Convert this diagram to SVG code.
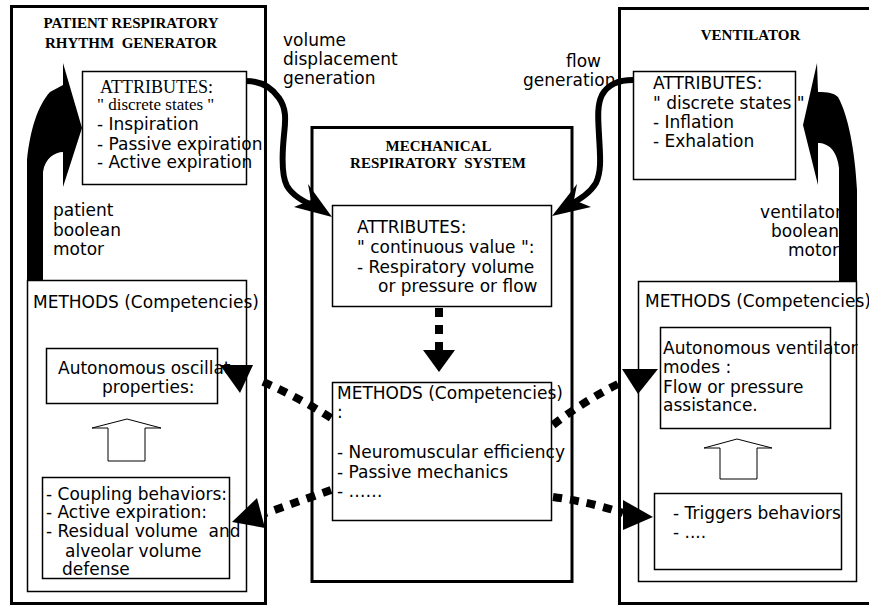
<svg xmlns="http://www.w3.org/2000/svg" width="869" height="607" viewBox="0 0 869 607">
<style>
.outer{fill:none;stroke:#000;stroke-width:3}
.box{fill:#fff;stroke:#000;stroke-width:1.5}
.t{font-family:"DejaVu Sans",sans-serif;font-size:17px;fill:#000}
.ts{font-family:"Liberation Serif",serif;fill:#000}
.title{font-family:"Liberation Serif",serif;font-weight:bold;font-size:15px;fill:#000;text-anchor:middle;white-space:pre}
.dot{fill:none;stroke:#000;stroke-width:8;stroke-dasharray:9 8}
.thick{fill:none;stroke:#000;stroke-width:6;stroke-linejoin:round}
.hollow{fill:#fff;stroke:#000;stroke-width:1}
</style>
<rect width="869" height="607" fill="#fff"/>

<g id="patient">
<rect class="outer" x="11.5" y="6.5" width="254" height="597"/>
<text class="title" x="131" y="28">PATIENT RESPIRATORY</text>
<text class="title" x="131" y="48">RHYTHM  GENERATOR</text>
<path d="M63,63 L82,128 L63,187 L63,152 C55,152 45,158 43,172 L43,280 L27,280 L27,160 C30,130 38,105 50,92 L63,85 Z" fill="#000"/>
<text class="t" x="53" y="216">patient</text>
<text class="t" x="53" y="236">boolean</text>
<text class="t" x="53" y="255">motor</text>
</g>

<g id="patient-attributes">
<rect class="box" x="82.5" y="71.5" width="164" height="113"/>
<text class="ts" x="100" y="93" font-size="18">ATTRIBUTES:</text>
<text class="ts" x="97" y="110" font-size="17">" discrete states "</text>
<text class="t" x="97" y="130">- Inspiration</text>
<text class="t" x="97" y="150">- Passive expiration</text>
<text class="t" x="97" y="168">- Active expiration</text>
</g>

<g id="patient-methods">
<rect class="box" x="27.5" y="280.5" width="219" height="311"/>
<text class="t" x="33" y="308">METHODS (Competencies)</text>
</g>

<g id="patient-oscillator">
<rect class="box" x="46.5" y="348.5" width="171" height="55"/>
<text class="t" x="58" y="374">Autonomous oscillat</text>
<text class="t" x="102" y="393">properties:</text>
</g>

<g id="patient-coupling">
<rect class="box" x="42.5" y="477.5" width="187" height="101"/>
<text class="t" x="46" y="500">- Coupling behaviors:</text>
<text class="t" x="46" y="518">- Active expiration:</text>
<text class="t" x="46" y="537" style="white-space:pre">- Residual volume  and</text>
<text class="t" x="65" y="557">alveolar volume</text>
<text class="t" x="62" y="575">defense</text>
</g>

<g id="mechanical">
<rect class="outer" x="312" y="127.5" width="260" height="454"/>
<text class="title" x="438.5" y="151">MECHANICAL</text>
<text class="title" x="438" y="168">RESPIRATORY  SYSTEM</text>
</g>

<g id="mechanical-attributes">
<rect class="box" x="332.5" y="205.5" width="219" height="101"/>
<text class="t" x="357" y="233">ATTRIBUTES:</text>
<text class="t" x="357" y="253">" continuous value ":</text>
<text class="t" x="357" y="273">- Respiratory volume</text>
<text class="t" x="378" y="292">or pressure or flow</text>
</g>

<g id="mechanical-methods">
<rect class="box" x="332.5" y="382.5" width="219" height="138"/>
<text class="t" x="337" y="399">METHODS (Competencies)</text>
<text class="t" x="337" y="418">:</text>
<text class="t" x="337" y="458">- Neuromuscular efficiency</text>
<text class="t" x="337" y="478">- Passive mechanics</text>
<text class="t" x="337" y="497">- ……</text>
</g>

<g id="ventilator">
<rect class="outer" x="619.5" y="8.5" width="262" height="595"/>
<text class="title" x="750.5" y="40">VENTILATOR</text>
<text class="t" x="842" y="218" text-anchor="end">ventilator</text>
<text class="t" x="839" y="237" text-anchor="end">boolean</text>
<text class="t" x="839" y="256" text-anchor="end">motor</text>
<path d="M817,63 L803,125 L818,185 L818,143 C828,143 837,150 839,168 L839,282 L857,282 L857,190 C855,150 848,115 838,97 C834,93 828,92 818,92 Z" fill="#000"/>
</g>

<g id="ventilator-attributes">
<rect class="box" x="633.5" y="71.5" width="162" height="108"/>
<text class="t" x="653" y="89">ATTRIBUTES:</text>
<text class="t" x="653" y="109">" discrete states "</text>
<text class="t" x="653" y="128">- Inflation</text>
<text class="t" x="653" y="147">- Exhalation</text>
</g>

<g id="ventilator-methods">
<rect class="box" x="638.5" y="281.5" width="218" height="300"/>
<text class="t" x="645" y="307">METHODS (Competencies)</text>
</g>

<g id="ventilator-modes">
<rect class="box" x="660.5" y="327.5" width="170" height="101"/>
<text class="t" x="663" y="354">Autonomous ventilator</text>
<text class="t" x="663" y="373">modes :</text>
<text class="t" x="663" y="393">Flow or pressure</text>
<text class="t" x="663" y="411">assistance.</text>
</g>

<g id="ventilator-triggers">
<rect class="box" x="654.5" y="493.5" width="187" height="76"/>
<text class="t" x="673" y="519">- Triggers behaviors</text>
<text class="t" x="673" y="538">- ....</text>
</g>

<g id="labels">
<text class="t" x="283" y="46">volume</text>
<text class="t" x="283" y="65">displacement</text>
<text class="t" x="283" y="84">generation</text>
<text class="t" x="566" y="67">flow</text>
<text class="t" x="523" y="86">generation</text>
</g>

<g id="connectors">
<path class="thick" d="M246,81 C262,81 272,88 279,98 C286,108 286,118 284,135 C282,155 281,175 287,186 C293,196 303,201 314,206"/>
<polygon points="332,217 308,184 311,200 294,207"/>
<path class="thick" d="M633,80 C620,80 608,84 602,95 C597,105 598,118 599,135 C600,155 602,170 596,183 C590,193 580,199 570,205"/>
<polygon points="552,216 577,184 574,200 591,207"/>
<line class="dot" x1="439" y1="308" x2="439" y2="352"/>
<polygon points="423,350 455,350 439,372"/>
<path class="dot" d="M331,418 Q295,395 256,379"/>
<polygon points="220,365 253,365 240,393"/>
<path class="dot" d="M331,490 Q300,501 266,513"/>
<polygon points="232,522 257,498 265,528"/>
<path class="dot" d="M553,425 Q585,400 622,382"/>
<polygon points="622,369 658,369 638,394"/>
<path class="dot" d="M553,497 Q590,502 623,513"/>
<polygon points="623,500 653,517 623,530"/>
<polygon class="hollow" points="108,461 108,428 92,428 127,419 161,428 145,428 145,461"/>
<polygon class="hollow" points="720,479 720,448 704,448 737,439 772,448 757,448 757,479"/>
</g>
</svg>
